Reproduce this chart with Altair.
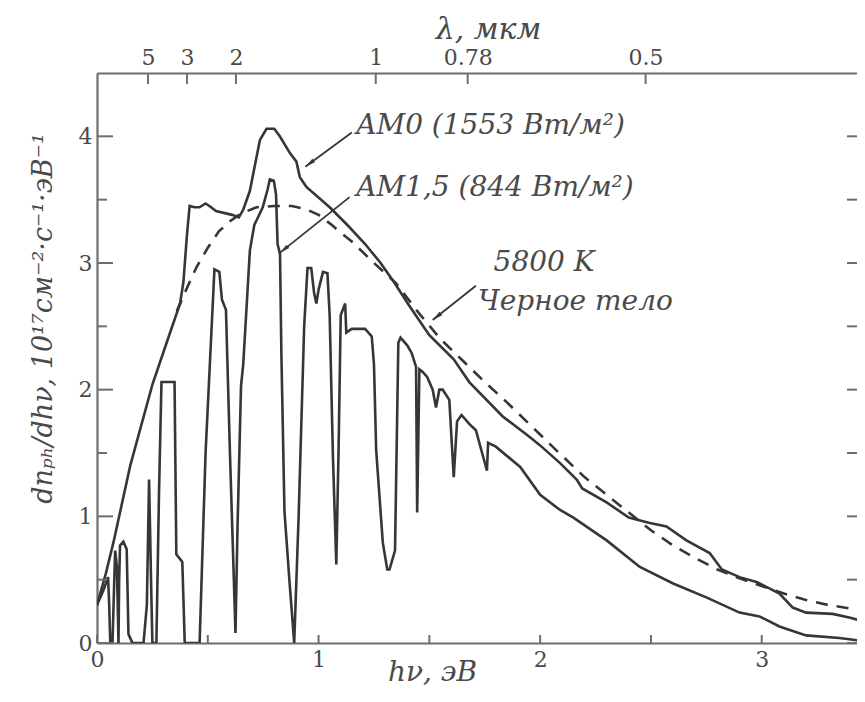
import math
import altair as alt
import pandas as pd

# ---------------- data ----------------
am0_e = [0, 0.04, 0.075, 0.15, 0.25, 0.32, 0.375, 0.39, 0.405, 0.418, 0.44, 0.463, 0.49, 0.515, 0.537,
         0.61, 0.64, 0.66, 0.69, 0.735, 0.765, 0.80, 0.825, 0.87, 0.90, 0.915, 0.945, 1.05, 1.13, 1.21,
         1.28, 1.34, 1.41, 1.50, 1.61, 1.68, 1.83, 1.95, 2.0, 2.09, 2.165, 2.19, 2.30, 2.40, 2.49, 2.57,
         2.66, 2.765, 2.82, 2.90, 2.98, 3.08, 3.14, 3.20, 3.32, 3.40, 3.48]
am0_v = [0.30, 0.55, 0.80, 1.40, 2.04, 2.40, 2.68, 2.85, 3.20, 3.45, 3.44, 3.44, 3.47, 3.44, 3.41,
         3.38, 3.36, 3.42, 3.57, 3.97, 4.06, 4.06, 4.00, 3.87, 3.80, 3.68, 3.60, 3.44, 3.30, 3.15,
         3.00, 2.85, 2.66, 2.43, 2.24, 2.06, 1.79, 1.63, 1.56, 1.42, 1.29, 1.22, 1.11, 0.99, 0.95, 0.92,
         0.81, 0.71, 0.58, 0.52, 0.48, 0.39, 0.28, 0.24, 0.23, 0.20, 0.16]

am15_e = [0, 0.03, 0.05, 0.055, 0.06, 0.07, 0.078, 0.082, 0.09, 0.097, 0.100, 0.104, 0.119, 0.134,
          0.142, 0.16, 0.21, 0.225, 0.235, 0.245, 0.25, 0.268, 0.28, 0.291, 0.35, 0.358, 0.385, 0.396,
          0.463, 0.49, 0.53, 0.552, 0.564, 0.582, 0.60, 0.625, 0.634, 0.65, 0.66, 0.69, 0.71, 0.748,
          0.77, 0.78, 0.798, 0.808, 0.815, 0.826, 0.832, 0.846, 0.869, 0.89, 0.91, 0.935, 0.95, 0.967,
          0.98, 0.99, 1.0, 1.02, 1.04, 1.05, 1.065, 1.08, 1.09, 1.10, 1.12, 1.125, 1.15, 1.21, 1.24,
          1.25, 1.26, 1.29, 1.31, 1.32, 1.345, 1.36, 1.37, 1.40, 1.42, 1.44, 1.445, 1.455, 1.47, 1.49,
          1.515, 1.53, 1.545, 1.56, 1.59, 1.61, 1.625, 1.645, 1.68, 1.71, 1.76, 1.765, 1.80, 1.91, 2.0,
          2.09, 2.15, 2.30, 2.45, 2.60, 2.75, 2.90, 2.99, 3.08, 3.20, 3.35, 3.48]
am15_v = [0.30, 0.42, 0.52, 0.30, 0.0, 0.0, 0.50, 0.73, 0.60, 0.0, 0.50, 0.77, 0.80, 0.74,
          0.07, 0.0, 0.0, 0.30, 1.29, 0.40, 0.0, 0.0, 1.20, 2.06, 2.06, 0.70, 0.64, 0.0,
          0.0, 1.50, 2.95, 2.93, 2.71, 2.63, 1.50, 0.08, 0.90, 2.03, 2.20, 3.10, 3.30, 3.44,
          3.58, 3.66, 3.65, 3.54, 3.15, 3.07, 2.30, 1.04, 0.48, 0.0, 1.00, 2.50, 2.96, 2.96,
          2.76, 2.68, 2.79, 2.93, 2.92, 2.59, 1.46, 0.62, 1.50, 2.59, 2.68, 2.45, 2.48, 2.48, 2.42,
          2.20, 1.52, 0.79, 0.58, 0.58, 0.73, 2.37, 2.41, 2.35, 2.29, 2.18, 1.03, 2.16, 2.14, 2.10,
          2.00, 1.86, 2.00, 2.00, 1.92, 1.31, 1.75, 1.80, 1.73, 1.68, 1.36, 1.58, 1.55, 1.39, 1.17,
          1.05, 0.99, 0.81, 0.60, 0.47, 0.36, 0.24, 0.21, 0.13, 0.06, 0.04, 0.01]

bb_e = [0.36, 0.40, 0.45, 0.50, 0.55, 0.60, 0.65, 0.72, 0.80, 0.88, 0.95, 1.00, 1.06, 1.10, 1.15,
        1.25, 1.35, 1.45, 1.55, 1.65, 1.75, 1.85, 1.95, 2.05, 2.20, 2.35, 2.50, 2.60, 2.70, 2.80,
        2.90, 3.00, 3.10, 3.20, 3.30, 3.48]
bb_v = [2.62, 2.78, 2.97, 3.12, 3.25, 3.33, 3.39, 3.44, 3.45, 3.45, 3.42, 3.38, 3.30, 3.24, 3.17,
        3.00, 2.84, 2.61, 2.40, 2.23, 2.06, 1.90, 1.73, 1.56, 1.31, 1.10, 0.89, 0.77, 0.67, 0.58,
        0.51, 0.45, 0.39, 0.34, 0.30, 0.25]

x_major = [0, 1, 2, 3]
x_minor = [0.5, 1.5, 2.5]
y_major = [0, 1, 2, 3, 4]
y_minor = [0.5, 1.5, 2.5, 3.5]
lam_labels = ["5", "3", "2", "1", "0.78", "0.5"]
lam_pos = [0.23, 0.406, 0.627, 1.258, 1.673, 2.476]

note_text = ["AM0 (1553 Вт/м²)", "AM1,5 (844 Вт/м²)", "5800 K", "Черное тело"]
note_e = [1.17, 1.17, 1.79, 1.72]
note_v = [4.08, 3.59, 3.00, 2.69]

arrow_e1 = [1.15, 1.14, 1.71]
arrow_v1 = [4.03, 3.52, 2.82]
arrow_e2 = [0.94, 0.825, 1.515]
arrow_v2 = [3.76, 3.08, 2.55]

# ---------------- style ----------------
X_DOMAIN = [0, 3.43]
Y_DOMAIN = [0, 4.5]
W, H = 760, 570
FONT = "DejaVu Serif"
CURVE = "#363636"
TXT = "#4a4a4a"
AXC = "#6e6e6e"

xs = alt.Scale(domain=X_DOMAIN, nice=False, zero=False)
ys = alt.Scale(domain=Y_DOMAIN, nice=False, zero=False)

def xq(f, axis=None):
    return alt.X(f, type="quantitative", scale=xs, axis=axis)

def yq(f, axis=None):
    return alt.Y(f, type="quantitative", scale=ys, axis=axis)

bottom_axis = alt.Axis(orient="bottom", values=x_major, format="d", ticks=False, grid=False,
                       domain=True, domainColor=AXC, domainWidth=2.2, labelFlush=False,
                       labelFont=FONT, labelFontSize=22, labelColor=TXT, labelPadding=6,
                       title="hν, эВ", titleFont=FONT, titleFontSize=28, titleFontStyle="italic",
                       titleFontWeight="normal", titleColor=TXT, titleX=335, titleY=37,
                       titleAlign="center", titleBaseline="alphabetic")
left_axis = alt.Axis(orient="left", values=y_major, format="d", ticks=False, grid=False,
                     domain=True, domainColor=AXC, domainWidth=2.2,
                     labelFont=FONT, labelFontSize=22, labelColor=TXT, labelPadding=5,
                     title="dnₚₕ/dhν,  10¹⁷см⁻²·с⁻¹·эВ⁻¹", titleFont=FONT, titleFontSize=27,
                     titleFontStyle="italic", titleFontWeight="normal", titleColor=TXT,
                     titleAngle=270, titleX=-54, titleY=245, titleAlign="center",
                     titleBaseline="middle")

lab_expr = "''"
for p, l in reversed(list(zip(lam_pos, lam_labels))):
    lab_expr = f"abs(datum.value - {p}) < 0.001 ? '{l}' : ({lab_expr})"

top_axis = alt.Axis(orient="top", values=lam_pos, labelExpr=lab_expr, ticks=False, grid=False,
                    domain=True, domainColor=AXC, domainWidth=2.2, labelFlush=False,
                    labelFont=FONT, labelFontSize=22, labelColor=TXT, labelPadding=4,
                    title="λ, мкм", titleFont=FONT, titleFontSize=30, titleFontStyle="italic",
                    titleFontWeight="normal", titleColor=TXT, titleX=391, titleY=-44,
                    titleAlign="center", titleBaseline="middle")

def curve_df(e, v):
    return pd.DataFrame({"E": e, "v": v, "i": list(range(len(e)))})

am0 = alt.Chart(curve_df(am0_e, am0_v)).mark_line(color=CURVE, strokeWidth=2.6, clip=True).encode(
    x=xq("E", bottom_axis), y=yq("v", left_axis), order=alt.Order("i:Q"))
am15 = alt.Chart(curve_df(am15_e, am15_v)).mark_line(color=CURVE, strokeWidth=2.6, clip=True).encode(
    x=xq("E"), y=yq("v"), order=alt.Order("i:Q"))
bb = alt.Chart(curve_df(bb_e, bb_v)).mark_line(color=CURVE, strokeWidth=2.6, strokeDash=[12, 9],
                                               clip=True).encode(
    x=xq("E"), y=yq("v"), order=alt.Order("i:Q"))

# inward ticks
def yticks(vals, x1, x2):
    return alt.Chart(pd.DataFrame({"t": vals})).mark_rule(color=AXC, strokeWidth=2).encode(
        y=yq("t"), x=alt.value(x1), x2=alt.value(x2))

def xticks(vals, y1, y2, axis=None):
    return alt.Chart(pd.DataFrame({"t": vals})).mark_rule(color=AXC, strokeWidth=2).encode(
        x=xq("t", axis), y=alt.value(y1), y2=alt.value(y2))

ticks = [
    yticks(y_major, 0, 16), yticks(y_minor, 0, 10),
    yticks(y_major + y_minor, W - 10, W),
    xticks(x_major + x_minor, H, H - 8),
    xticks(lam_pos, 0, 11, top_axis),
]

notes = alt.Chart(pd.DataFrame({"E": note_e, "v": note_v, "t": note_text})).mark_text(
    align="left", baseline="middle", font=FONT, fontSize=28, fontStyle="italic", color=TXT
).encode(x=xq("E"), y=yq("v"), text="t:N")

kx = W / (X_DOMAIN[1] - X_DOMAIN[0])
ky = H / (Y_DOMAIN[1] - Y_DOMAIN[0])
angles = []
for a, b, c, d in zip(arrow_e1, arrow_v1, arrow_e2, arrow_v2):
    dx = (c - a) * kx
    dy = -(d - b) * ky
    angles.append(math.degrees(math.atan2(dx, -dy)) % 360)
arr = pd.DataFrame({"e1": arrow_e1, "v1": arrow_v1, "e2": arrow_e2, "v2": arrow_v2, "ang": angles})

arrow_lines = alt.Chart(arr).mark_rule(color=CURVE, strokeWidth=1.8).encode(
    x=xq("e1"), y=yq("v1"), x2="e2", y2="v2")
arrow_heads = alt.Chart(arr).mark_point(shape="M0,0L0.45,2.2L-0.45,2.2Z", filled=True, size=90,
                                        color=CURVE, opacity=1, strokeWidth=0).encode(
    x=xq("e2"), y=yq("v2"), angle=alt.Angle("ang:Q", scale=None))

chart = alt.layer(am15, bb, am0, *ticks, arrow_lines, arrow_heads, notes).resolve_axis(
    x="independent", y="independent"
).properties(
    width=W, height=H,
    autosize=alt.AutoSizeParams(type="none"),
    padding={"left": 89, "top": 65, "right": 0, "bottom": 45},
    background="white",
).configure_view(stroke=None)

chart.save("out.html", embed_options={"renderer": "svg", "actions": False})
